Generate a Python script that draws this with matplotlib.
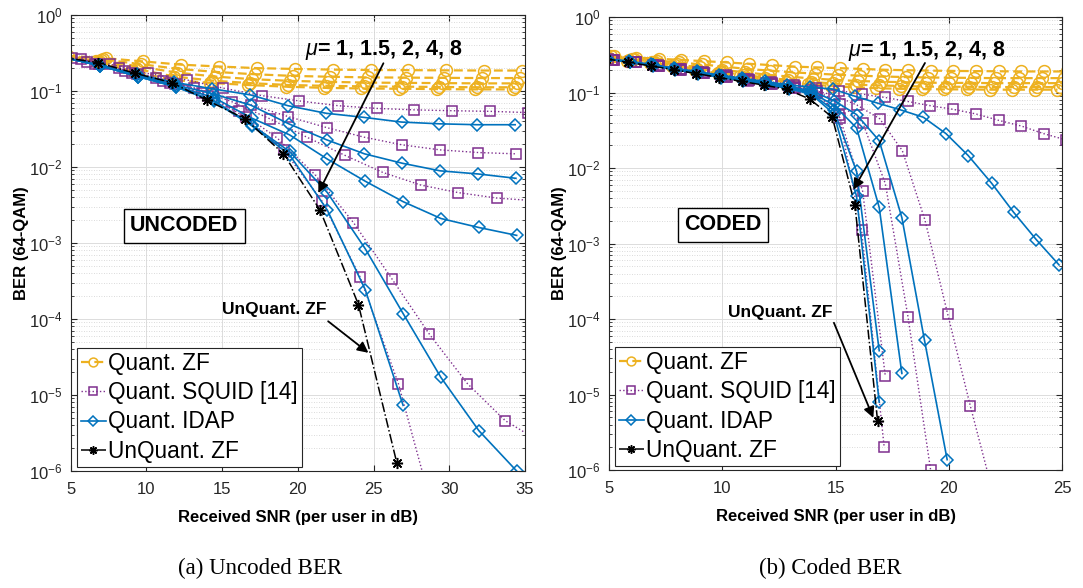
import numpy as np
import matplotlib
matplotlib.use('Agg')
import matplotlib.pyplot as plt
from matplotlib.lines import Line2D
from matplotlib.ticker import LogLocator, NullFormatter

plt.rcParams['font.family'] = ['Liberation Sans', 'DejaVu Sans']
plt.rcParams['mathtext.fontset'] = 'custom'
plt.rcParams['mathtext.rm'] = 'Liberation Sans'
plt.rcParams['mathtext.it'] = 'Liberation Sans:italic'
plt.rcParams['mathtext.bf'] = 'Liberation Sans:bold'
plt.rcParams['mathtext.default'] = 'regular'
plt.rcParams['axes.unicode_minus'] = False

C_ZF = '#EDB120'
C_SQ = '#7E2F8E'
C_ID = '#0072BD'
C_UQ = 'black'

mu_values = ['1', '1.5', '2', '4', '8']

# ---------------- (a) Uncoded ----------------
unc_zf_snr = [
    [4.8, 7.3, 9.8, 12.3, 14.8, 17.3, 19.8, 22.3, 24.8, 27.3, 29.8, 32.3, 34.8],
    [4.65, 7.15, 9.65, 12.15, 14.65, 17.15, 19.65, 22.15, 24.65, 27.15, 29.65, 32.15, 34.65],
    [4.5, 7.0, 9.5, 12.0, 14.5, 17.0, 19.5, 22.0, 24.5, 27.0, 29.5, 32.0, 34.5],
    [4.35, 6.85, 9.35, 11.85, 14.35, 16.85, 19.35, 21.85, 24.35, 26.85, 29.35, 31.85, 34.35],
    [4.2, 6.7, 9.2, 11.7, 14.2, 16.7, 19.2, 21.7, 24.2, 26.7, 29.2, 31.7, 34.2],
]
unc_zf_ber = [
    [0.29, 0.27, 0.245, 0.222, 0.21, 0.2, 0.195, 0.191, 0.189, 0.188, 0.187, 0.186, 0.186],
    [0.29, 0.26, 0.225, 0.195, 0.178, 0.166, 0.158, 0.154, 0.151, 0.15, 0.149, 0.148, 0.148],
    [0.285, 0.255, 0.21, 0.175, 0.155, 0.143, 0.136, 0.132, 0.129, 0.128, 0.127, 0.126, 0.126],
    [0.285, 0.25, 0.195, 0.155, 0.137, 0.127, 0.12, 0.117, 0.115, 0.114, 0.113, 0.112, 0.112],
    [0.28, 0.245, 0.18, 0.14, 0.128, 0.12, 0.114, 0.11, 0.108, 0.107, 0.106, 0.105, 0.105],
]
unc_sq_snr = [
    [5.08, 7.6, 10.1, 12.66, 15.08, 17.61, 20.1, 22.68, 25.2, 27.68, 30.2, 32.7, 35.2],
    [4.4, 6.9, 9.4, 11.9, 14.42, 16.89, 19.37, 21.9, 24.37, 26.86, 29.39, 31.92, 34.42],
    [3.16, 5.66, 8.16, 10.66, 13.16, 15.66, 18.16, 20.59, 23.12, 25.6, 28.1, 30.6, 33.14, 35.64],
    [3.6, 6.1, 8.6, 11.1, 13.64, 16.14, 18.64, 21.14, 23.67, 26.2, 28.69, 31.2, 33.69, 36.2],
    [4.08, 6.58, 9.08, 11.58, 14.08, 16.58, 19.08, 21.58, 24.1, 26.64, 29.1],
]
unc_sq_ber = [
    [0.27, 0.225, 0.17, 0.14, 0.109, 0.087, 0.074, 0.064, 0.059, 0.0565, 0.055, 0.054, 0.052],
    [0.28, 0.225, 0.165, 0.125, 0.093, 0.066, 0.046, 0.033, 0.0247, 0.0196, 0.0168, 0.0155, 0.0149],
    [0.31, 0.26, 0.2, 0.15, 0.11, 0.072, 0.043, 0.0247, 0.0142, 0.0085, 0.0058, 0.0046, 0.0039, 0.0036],
    [0.3, 0.24, 0.185, 0.135, 0.095, 0.054, 0.024, 0.0079, 0.00186, 3.4e-4, 6.3e-5, 1.41e-5, 4.6e-6, 2.3e-6],
    [0.29, 0.23, 0.175, 0.128, 0.085, 0.045, 0.0165, 0.0036, 3.6e-4, 1.41e-5, 2.2e-7],
]
unc_id_snr = [
    [4.35, 6.85, 9.35, 11.85, 14.35, 16.85, 19.35, 21.85, 24.35, 26.85, 29.35, 31.85, 34.35],
    [4.4, 6.9, 9.4, 11.9, 14.4, 16.9, 19.4, 21.9, 24.4, 26.9, 29.4, 31.9, 34.4],
    [4.45, 6.95, 9.45, 11.95, 14.45, 16.95, 19.45, 21.95, 24.45, 26.95, 29.45, 31.95, 34.45],
    [4.45, 6.95, 9.45, 11.95, 14.45, 16.95, 19.45, 21.95, 24.45, 26.95, 29.45, 31.95, 34.45],
    [4.45, 6.95, 9.45, 11.95, 14.45, 16.95, 19.45, 21.95, 24.45, 26.95],
]
unc_id_ber = [
    [0.28, 0.22, 0.165, 0.13, 0.107, 0.089, 0.064, 0.051, 0.045, 0.039, 0.037, 0.036, 0.036],
    [0.28, 0.22, 0.16, 0.12, 0.092, 0.065, 0.037, 0.0228, 0.0149, 0.0112, 0.0089, 0.0081, 0.0071],
    [0.28, 0.215, 0.155, 0.115, 0.082, 0.044, 0.0265, 0.0127, 0.0065, 0.0035, 0.0021, 0.0016, 0.00126],
    [0.28, 0.215, 0.155, 0.113, 0.075, 0.036, 0.016, 0.0046, 0.00084, 1.18e-4, 1.7e-5, 3.4e-6, 1.0e-6],
    [0.28, 0.215, 0.155, 0.113, 0.073, 0.035, 0.0145, 0.0027, 0.000244, 7.3e-6],
]
unc_uq_snr = [4.3, 6.82, 9.25, 11.67, 13.98, 16.51, 19.04, 21.47, 24.0, 26.53]
unc_uq_ber = [0.28, 0.236, 0.171, 0.129, 0.076, 0.043, 0.015, 0.0027, 1.55e-4, 1.29e-6]

# ---------------- (b) Coded ----------------
cod_zf_snr = [
    [5.2, 6.2, 7.2, 8.2, 9.2, 10.2, 11.2, 12.2, 13.2, 14.2, 15.2, 16.2, 17.2, 18.2, 19.2, 20.2, 21.2, 22.2, 23.2, 24.2, 25.2],
    [5.1, 6.1, 7.1, 8.1, 9.1, 10.1, 11.1, 12.1, 13.1, 14.1, 15.1, 16.1, 17.1, 18.1, 19.1, 20.1, 21.1, 22.1, 23.1, 24.1, 25.1],
    [5.0, 6.0, 7.0, 8.0, 9.0, 10.0, 11.0, 12.0, 13.0, 14.0, 15.0, 16.0, 17.0, 18.0, 19.0, 20.0, 21.0, 22.0, 23.0, 24.0, 25.0],
    [4.9, 5.9, 6.9, 7.9, 8.9, 9.9, 10.9, 11.9, 12.9, 13.9, 14.9, 15.9, 16.9, 17.9, 18.9, 19.9, 20.9, 21.9, 22.9, 23.9, 24.9],
    [4.8, 5.8, 6.8, 7.8, 8.8, 9.8, 10.8, 11.8, 12.8, 13.8, 14.8, 15.8, 16.8, 17.8, 18.8, 19.8, 20.8, 21.8, 22.8, 23.8, 24.8],
]
cod_zf_ber = [
    [0.30, 0.29, 0.28, 0.27, 0.26, 0.25, 0.24, 0.23, 0.22, 0.215, 0.21, 0.205, 0.2, 0.197, 0.195, 0.193, 0.192, 0.191, 0.19, 0.19, 0.19],
    [0.30, 0.28, 0.265, 0.25, 0.235, 0.22, 0.205, 0.195, 0.185, 0.178, 0.172, 0.167, 0.163, 0.16, 0.158, 0.157, 0.156, 0.155, 0.155, 0.155, 0.155],
    [0.29, 0.275, 0.255, 0.235, 0.215, 0.2, 0.185, 0.172, 0.162, 0.153, 0.147, 0.142, 0.139, 0.137, 0.135, 0.134, 0.134, 0.133, 0.133, 0.133, 0.133],
    [0.29, 0.27, 0.25, 0.228, 0.205, 0.188, 0.172, 0.158, 0.147, 0.138, 0.132, 0.127, 0.124, 0.122, 0.12, 0.119, 0.119, 0.118, 0.118, 0.118, 0.118],
    [0.28, 0.265, 0.245, 0.222, 0.2, 0.18, 0.165, 0.15, 0.138, 0.129, 0.122, 0.117, 0.114, 0.112, 0.111, 0.11, 0.11, 0.109, 0.109, 0.109, 0.109],
]
cod_sq_snr = [
    [5.15, 6.15, 7.15, 8.15, 9.15, 10.15, 11.15, 12.15, 13.15, 14.15, 15.15, 16.15, 17.18, 18.2, 19.16, 20.18, 21.2, 22.21, 23.2, 24.19, 25.19],
    [4.95, 5.95, 6.95, 7.95, 8.95, 9.95, 10.95, 11.95, 12.95, 13.95, 14.95, 15.95, 16.95, 17.95, 18.95, 19.95, 20.95, 21.95],
    [5.2, 6.2, 7.2, 8.2, 9.2, 10.2, 11.2, 12.2, 13.2, 14.2, 15.2, 16.2, 17.2, 18.2, 19.2],
    [5.2, 6.2, 7.2, 8.2, 9.2, 10.2, 11.2, 12.2, 13.2, 14.2, 15.2, 16.2, 17.2],
    [5.15, 6.15, 7.15, 8.15, 9.15, 10.15, 11.15, 12.15, 13.15, 14.15, 15.15, 16.15, 17.15],
]
cod_sq_ber = [
    [0.27, 0.25, 0.228, 0.205, 0.185, 0.168, 0.152, 0.138, 0.127, 0.116, 0.106, 0.0955, 0.086, 0.076, 0.067, 0.06, 0.052, 0.0427, 0.036, 0.0285, 0.0235],
    [0.28, 0.255, 0.23, 0.207, 0.186, 0.167, 0.15, 0.135, 0.121, 0.108, 0.092, 0.068, 0.045, 0.017, 0.00204, 1.17e-4, 7.1e-6, 5e-7],
    [0.27, 0.25, 0.227, 0.203, 0.182, 0.163, 0.147, 0.132, 0.118, 0.105, 0.07, 0.04, 0.0062, 1.07e-4, 1e-6],
    [0.27, 0.25, 0.225, 0.2, 0.18, 0.16, 0.145, 0.13, 0.116, 0.1, 0.046, 0.0049, 1.74e-5],
    [0.27, 0.25, 0.225, 0.2, 0.18, 0.16, 0.144, 0.128, 0.114, 0.098, 0.05, 0.0015, 2e-6],
]
cod_id_snr = [
    [4.87, 5.87, 6.87, 7.87, 8.87, 9.87, 10.87, 11.87, 12.87, 13.87, 14.87, 15.87, 16.88, 17.86, 18.88, 19.88, 20.86, 21.89, 22.86, 23.87, 24.87],
    [4.93, 5.93, 6.93, 7.93, 8.93, 9.93, 10.93, 11.93, 12.93, 13.93, 14.93, 15.93, 16.93, 17.93, 18.93, 19.93],
    [4.93, 5.93, 6.93, 7.93, 8.93, 9.93, 10.93, 11.93, 12.93, 13.93, 14.93, 15.93, 16.93, 17.93],
    [4.93, 5.93, 6.93, 7.93, 8.93, 9.93, 10.93, 11.93, 12.93, 13.93, 14.93, 15.93, 16.93],
    [4.93, 5.93, 6.93, 7.93, 8.93, 9.93, 10.93, 11.93, 12.93, 13.93, 14.93, 15.93, 16.93],
]
cod_id_ber = [
    [0.28, 0.26, 0.235, 0.21, 0.19, 0.17, 0.155, 0.14, 0.127, 0.118, 0.111, 0.089, 0.072, 0.059, 0.047, 0.0285, 0.0146, 0.0063, 0.0026, 0.00112, 0.00052],
    [0.28, 0.255, 0.23, 0.205, 0.185, 0.165, 0.15, 0.135, 0.12, 0.105, 0.078, 0.051, 0.023, 0.0022, 5.2e-5, 1.37e-6],
    [0.28, 0.255, 0.23, 0.205, 0.183, 0.163, 0.148, 0.132, 0.117, 0.1, 0.068, 0.034, 0.003, 1.9e-5],
    [0.28, 0.25, 0.228, 0.203, 0.18, 0.16, 0.145, 0.13, 0.115, 0.097, 0.058, 0.009, 3.8e-5],
    [0.28, 0.25, 0.226, 0.2, 0.178, 0.158, 0.143, 0.128, 0.112, 0.095, 0.052, 0.0042, 7.9e-6],
]
cod_uq_snr = [4.86, 5.86, 6.86, 7.86, 8.86, 9.86, 10.86, 11.86, 12.86, 13.86, 14.86, 15.86, 16.86]
cod_uq_ber = [0.28, 0.25, 0.225, 0.2, 0.178, 0.158, 0.14, 0.125, 0.11, 0.082, 0.047, 0.0032, 4.4e-6]

legend_labels = ['Quant. ZF', 'Quant. SQUID [14]', 'Quant. IDAP', 'UnQuant. ZF']

ZF_STYLE = dict(color=C_ZF, ls='--', lw=1.6, marker='o', ms=8.5, mfc='none', mew=1.1, dashes=(4, 2))
SQ_STYLE = dict(color=C_SQ, ls=':', lw=1.0, marker='s', ms=7, mfc='none', mew=1.1)
ID_STYLE = dict(color=C_ID, ls='-', lw=1.2, marker='D', ms=6.5, mfc='none', mew=1.1)
UQ_STYLE = dict(color=C_UQ, ls='-.', lw=1.1, marker=(8, 2, 0), ms=8, mew=1.1)

fig = plt.figure(figsize=(10.83, 5.88), dpi=100)
W, H = 1083.0, 588.0


def make_axes(x0, x1, ytop, ybot):
    return fig.add_axes([x0 / W, (H - ybot) / H, (x1 - x0) / W, (ybot - ytop) / H])


def panel(ax, zf_s, zf_b, sq_s, sq_b, id_s, id_b, uq_s, uq_b, xmax, xticks):
    for s, b in zip(zf_s, zf_b):
        ax.plot(s, b, **ZF_STYLE)
    for s, b in zip(sq_s, sq_b):
        ax.plot(s, b, **SQ_STYLE)
    for s, b in zip(id_s, id_b):
        ax.plot(s, b, **ID_STYLE)
    ax.plot(uq_s, uq_b, **UQ_STYLE)
    ax.set_yscale('log')
    ax.set_xlim(5, xmax)
    ax.set_ylim(1e-6, 1)
    ax.set_xticks(xticks)
    ax.yaxis.set_major_locator(LogLocator(base=10, numticks=10))
    ax.yaxis.set_minor_locator(LogLocator(base=10, subs=np.arange(2, 10), numticks=20))
    ax.yaxis.set_minor_formatter(NullFormatter())
    ax.grid(which='major', color='#dcdcdc', lw=0.7, ls='-')
    ax.grid(which='minor', axis='y', color='#cfcfcf', lw=0.6, ls=(0, (1, 2)))
    ax.set_axisbelow(True)
    ax.tick_params(which='both', direction='in', top=True, right=True, labelsize=12, colors='#262626')
    ax.tick_params(which='major', length=4)
    ax.tick_params(which='minor', length=2)
    ax.tick_params(axis='x', which='major', pad=8)
    ax.tick_params(axis='y', which='major', pad=6)
    for sp in ax.spines.values():
        sp.set_linewidth(0.8)
        sp.set_color('#262626')
    ax.set_xlabel('Received SNR (per user in dB)', fontsize=12, fontweight='bold', labelpad=9)
    ax.set_ylabel('BER (64-QAM)', fontsize=12, fontweight='bold', labelpad=0)
    handles = [Line2D([], [], **ZF_STYLE), Line2D([], [], **SQ_STYLE),
               Line2D([], [], **ID_STYLE), Line2D([], [], **UQ_STYLE)]
    leg = ax.legend(handles, legend_labels, loc='lower left', bbox_to_anchor=(0.013, 0.009),
                    borderaxespad=0, fontsize=16.3, handlelength=1.1, handletextpad=0.1,
                    labelspacing=0.28, borderpad=0.18, fancybox=False, framealpha=1,
                    edgecolor='#262626', markerscale=0.75)
    leg.get_frame().set_linewidth(0.8)


arrow_kw = dict(arrowstyle='-|>', color='black', lw=1.3, mutation_scale=16, shrinkA=0, shrinkB=0)

# Panel (a)
axA = make_axes(70.7, 525.0, 15.0, 471.0)
panel(axA, unc_zf_snr, unc_zf_ber, unc_sq_snr, unc_sq_ber, unc_id_snr, unc_id_ber,
      unc_uq_snr, unc_uq_ber, 35, [5, 10, 15, 20, 25, 30, 35])
axA.annotate('', xy=(21.35, 10 ** -2.343), xytext=(25.65, 10 ** -0.635), arrowprops=arrow_kw)
axA.text(25.7, 10 ** -0.46, r'$\mathit{\mu}$= 1, 1.5, 2, 4, 8', fontsize=15.5, fontweight='bold',
         ha='center', va='center')
axA.annotate('', xy=(24.66, 10 ** -4.445), xytext=(22.0, 10 ** -4.03), arrowprops=arrow_kw)
axA.text(18.47, 10 ** -3.88, 'UnQuant. ZF', fontsize=12.5, fontweight='bold', ha='center', va='center')
axA.text(12.5, 10 ** -2.775, 'UNCODED', fontsize=15.5, fontweight='bold', ha='center', va='center',
         bbox=dict(boxstyle='square,pad=0.3', fc='white', ec='black', lw=1.0))

# Panel (b)
axB = make_axes(609.0, 1062.0, 17.0, 470.0)
panel(axB, cod_zf_snr, cod_zf_ber, cod_sq_snr, cod_sq_ber, cod_id_snr, cod_id_ber,
      cod_uq_snr, cod_uq_ber, 25, [5, 10, 15, 20, 25])
axB.annotate('', xy=(15.79, 10 ** -2.287), xytext=(18.95, 10 ** -0.609), arrowprops=arrow_kw)
axB.text(19.03, 10 ** -0.453, r'$\mathit{\mu}$= 1, 1.5, 2, 4, 8', fontsize=15.5, fontweight='bold',
         ha='center', va='center')
axB.annotate('', xy=(16.67, 10 ** -5.31), xytext=(14.93, 10 ** -4.05), arrowprops=arrow_kw)
axB.text(12.58, 10 ** -3.91, 'UnQuant. ZF', fontsize=12.5, fontweight='bold', ha='center', va='center')
axB.text(10.03, 10 ** -2.75, 'CODED', fontsize=15.5, fontweight='bold', ha='center', va='center',
         bbox=dict(boxstyle='square,pad=0.3', fc='white', ec='black', lw=1.0))

fig.text(260 / W, 1 - 568 / H, '(a) Uncoded BER', fontsize=16.5, family='Liberation Serif',
         ha='center', va='center')
fig.text(830 / W, 1 - 568 / H, '(b) Coded BER', fontsize=16.5, family='Liberation Serif',
         ha='center', va='center')

fig.savefig('out.png', dpi=100)
